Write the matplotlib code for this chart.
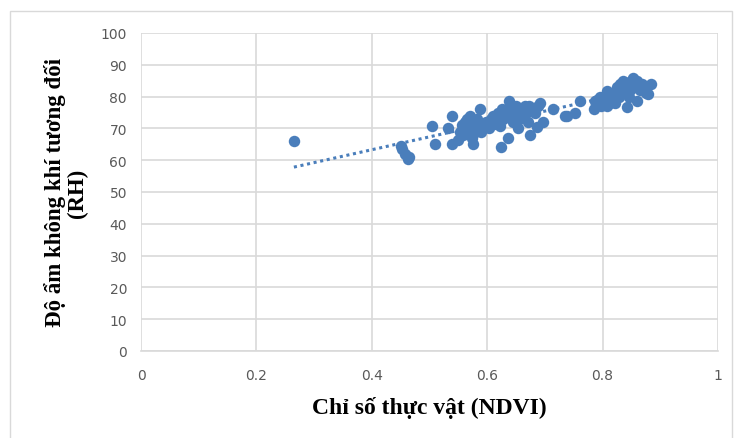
import numpy as np
import matplotlib
matplotlib.use('Agg')
import matplotlib.pyplot as plt
from matplotlib.patches import Rectangle

# NDVI vs relative humidity
ndvi = [0.265,
        0.450, 0.453, 0.457, 0.462, 0.465,
        0.504, 0.510, 0.532, 0.539, 0.539, 0.550, 0.553, 0.556, 0.558, 0.560,
        0.562, 0.565, 0.567, 0.568, 0.570, 0.572, 0.574, 0.575, 0.576, 0.578,
        0.580, 0.582, 0.585, 0.588, 0.590, 0.592, 0.598, 0.603, 0.607, 0.610,
        0.612, 0.615, 0.618, 0.620, 0.622, 0.624, 0.625, 0.628, 0.630, 0.632,
        0.636, 0.638, 0.640, 0.642, 0.645, 0.648, 0.650, 0.653, 0.655, 0.658,
        0.662, 0.665, 0.668, 0.670, 0.672, 0.674, 0.678, 0.682, 0.686, 0.688,
        0.691, 0.697, 0.714, 0.735, 0.738, 0.752, 0.761,
        0.785, 0.787, 0.788, 0.790, 0.795, 0.798, 0.802, 0.807, 0.807, 0.812,
        0.815, 0.818, 0.820, 0.822, 0.825, 0.828, 0.830, 0.832, 0.835, 0.838,
        0.842, 0.842, 0.845, 0.848, 0.850, 0.853, 0.855, 0.859, 0.860, 0.862,
        0.865, 0.868, 0.870, 0.875, 0.879, 0.884]
rh = [66,
      64.5, 63.5, 62, 60.5, 61,
      70.8, 65, 70, 74, 65, 66.5, 69, 71, 68, 70,
      72, 73, 69, 71, 74, 70, 67, 72, 65, 69,
      71, 73, 70, 76, 69, 71, 72, 70, 73, 74,
      71.5, 73, 75, 72, 70.8, 64, 76, 73, 74, 75,
      67, 78.6, 76, 74, 72, 75, 77, 70, 73, 76,
      74, 77, 75, 72, 77, 68, 76, 75, 70.5, 77,
      78, 72, 76, 74, 74, 75, 78.6,
      76, 78.6, 78, 79, 80, 77, 78, 81.8, 77, 78,
      80, 79, 81, 78, 83, 80, 84, 82, 85, 81,
      76.7, 83, 80, 82, 85, 86, 83, 78.6, 85, 84,
      82, 84, 83, 81, 80.8, 84]

xticks = [0, 0.2, 0.4, 0.6, 0.8, 1]
xticklabels = ['0', '0.2', '0.4', '0.6', '0.8', '1']
yticks = list(range(0, 101, 10))

blue = '#4a7ebb'
grid = '#d9d9d9'
tickc = '#595959'

fig = plt.figure(figsize=(7.35, 4.39), dpi=100)
fig.patch.set_facecolor('white')
# chart-area border like the spreadsheet chart
fig.patches.append(Rectangle((10 / 735, -0.02), 722 / 735, 1 - 12 / 439 + 0.02,
                             transform=fig.transFigure, fill=False,
                             edgecolor='#d9d9d9', linewidth=1))

ax = fig.add_axes([141 / 735, 1 - 352 / 439, 577 / 735, 318 / 439])
ax.set_xlim(0, 1)
ax.set_ylim(0, 100)
ax.set_xticks(xticks)
ax.set_xticklabels(xticklabels)
ax.set_yticks(yticks)
ax.grid(True, color=grid, linewidth=1.2)
ax.set_axisbelow(True)
for s in ['top', 'right', 'left']:
    ax.spines[s].set_visible(False)
ax.spines['bottom'].set_color(grid)
ax.spines['bottom'].set_linewidth(1.2)
ax.tick_params(length=0, colors=tickc, labelsize=10, pad=12)
ax.tick_params(axis='y', pad=10)

ax.scatter(ndvi, rh, s=68, color=blue, zorder=3, linewidths=0)

# linear trend line
k, b = np.polyfit(ndvi, rh, 1)
xs = np.array([min(ndvi), max(ndvi)])
ax.plot(xs, k * xs + b, linestyle=(0, (1, 1.2)), color=blue, linewidth=2.2, zorder=2)

ax.set_xlabel('Chỉ số thực vật (NDVI)', fontfamily='Liberation Serif',
              fontweight='bold', fontsize=17, color='black', labelpad=10)
ax.set_ylabel('Độ ẩm không khí tương đối\n(RH)', fontfamily='Liberation Serif',
              fontweight='bold', fontsize=16.5, color='black', labelpad=9,
              linespacing=1.05)

plt.savefig('out.png', dpi=100)
